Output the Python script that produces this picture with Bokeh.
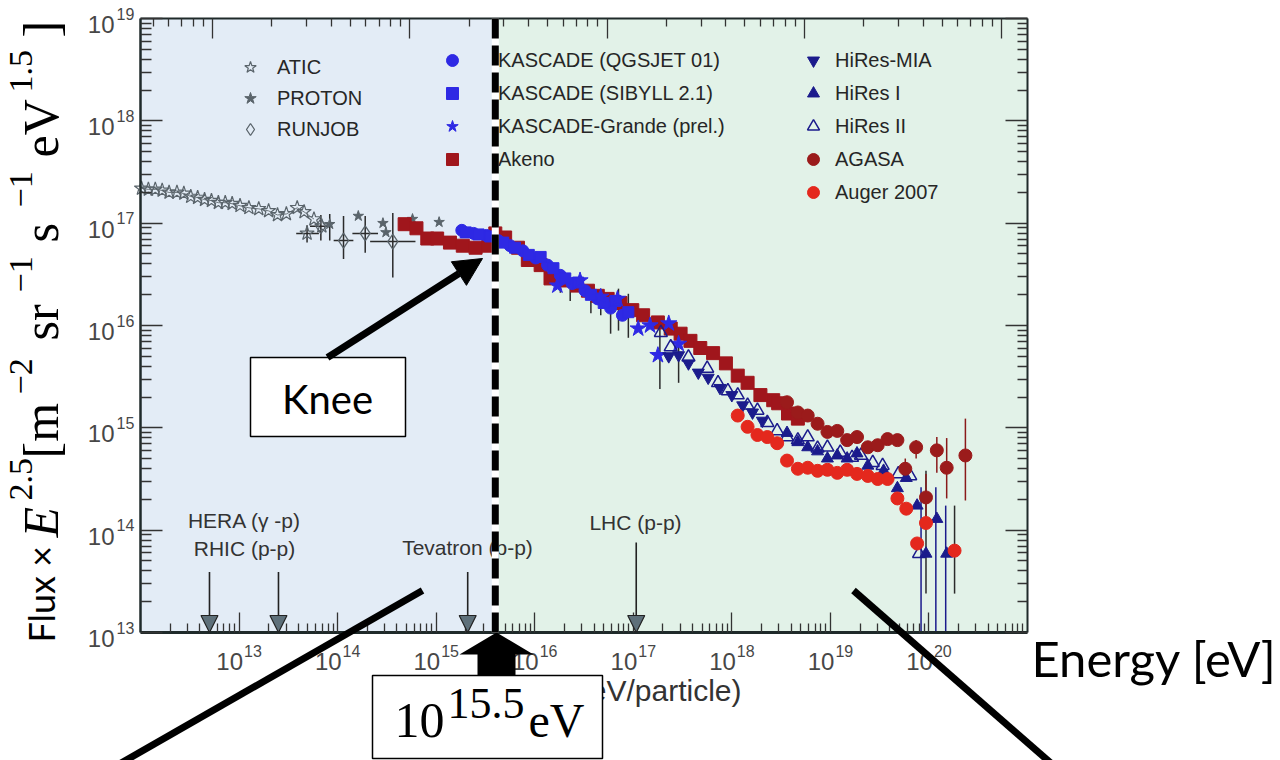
import math
import numpy as np
from bokeh.plotting import figure
from bokeh.models import (Range1d, LogScale, LogAxis, FixedTicker, CustomJSTickFormatter,
                          BoxAnnotation, Label, PolyAnnotation, Arrow, NormalHead,
                          Legend, LegendItem)
from bokeh.embed import file_html
from bokeh.resources import INLINE

# ---------------- data (log10 E [eV], log10 Flux*E^2.5) ----------------
atic_logE = [12.01, 12.08, 12.15, 12.22, 12.29, 12.37, 12.44, 12.51, 12.58, 12.65, 12.72, 12.79,
             12.86, 12.93, 13.01, 13.10, 13.20, 13.30, 13.39, 13.48, 13.59, 13.66, 13.76, 13.69, 13.84]
atic_logF = [17.34, 17.33, 17.33, 17.32, 17.30, 17.30, 17.29, 17.26, 17.25, 17.23, 17.22, 17.20,
             17.20, 17.19, 17.17, 17.15, 17.14, 17.12, 17.08, 17.09, 17.15, 17.11, 17.04, 16.90, 16.97]

proton_logE = [13.92, 14.21, 14.46, 14.49, 14.76, 15.03]
proton_logF = [16.99, 17.07, 17.00, 16.91, 17.04, 17.01]

runjob_logE = [13.83, 14.06, 14.28, 14.56]
runjob_logF = [16.97, 16.83, 16.90, 16.82]

akeno_logE = [14.68, 14.80, 14.91, 15.01, 15.14, 15.27, 15.40, 15.53, 15.60, 15.70, 15.83, 15.93,
              16.06, 16.16, 16.29, 16.43, 16.54, 16.64, 16.74, 16.87, 16.99, 17.10, 17.25, 17.38,
              17.48, 17.58, 17.68, 17.81, 17.94, 18.06, 18.16, 18.29, 18.42, 18.47, 18.57, 18.67]
akeno_logF = [16.99, 16.95, 16.85, 16.85, 16.81, 16.78, 16.76, 16.78, 16.90, 16.86, 16.76, 16.64,
              16.59, 16.46, 16.44, 16.39, 16.34, 16.29, 16.26, 16.22, 16.15, 16.10, 16.03, 15.97,
              15.92, 15.85, 15.78, 15.73, 15.63, 15.51, 15.44, 15.32, 15.27, 15.24, 15.14, 15.09]

kq_logE = [15.26, 15.38, 15.51, 15.63, 15.75, 15.88, 16.01, 16.13, 16.26, 16.38, 16.51, 16.64, 16.77, 16.89]
kq_logF = [16.93, 16.90, 16.88, 16.83, 16.78, 16.73, 16.66, 16.59, 16.49, 16.41, 16.34, 16.26, 16.17, 16.10]

ks_logE = [15.30, 15.43, 15.55, 15.68, 15.80, 15.94, 16.06, 16.19, 16.31, 16.44, 16.57, 16.70, 16.82, 16.95]
ks_logF = [16.91, 16.89, 16.87, 16.81, 16.76, 16.69, 16.67, 16.56, 16.46, 16.42, 16.30, 16.22, 16.24, 16.13]

kg_logE = [16.23, 16.46, 16.67, 16.84, 17.05, 17.17, 17.25, 17.36, 17.46]
kg_logF = [16.39, 16.44, 16.28, 16.26, 15.97, 16.00, 15.71, 16.02, 15.82]

mia_logE = [17.36, 17.46, 17.56, 17.66, 17.76, 17.88, 18.00, 18.11, 18.21, 18.31]
mia_logF = [15.70, 15.71, 15.63, 15.54, 15.49, 15.39, 15.32, 15.22, 15.15, 15.07]

h2_logE = [17.28, 17.38, 17.56, 17.75, 17.86, 17.96, 18.06, 18.16, 18.26, 18.36, 18.46, 18.56,
           18.67, 18.77, 18.87, 18.97, 19.10, 19.22, 19.31, 19.43, 19.53, 19.69, 19.81, 19.90]
h2_logF = [15.93, 15.79, 15.69, 15.58, 15.44, 15.36, 15.32, 15.22, 15.17, 15.05, 14.97, 14.91,
           14.88, 14.91, 14.80, 14.81, 14.76, 14.71, 14.73, 14.66, 14.63, 14.55, 14.53, 13.77]

h1_logE = [18.56, 18.67, 18.77, 18.87, 18.97, 19.07, 19.17, 19.27, 19.38, 19.54, 19.68, 19.77,
           19.88, 19.97, 20.08, 20.18]
h1_logF = [14.95, 14.86, 14.81, 14.77, 14.70, 14.73, 14.70, 14.75, 14.63, 14.58, 14.41, 14.51,
           14.24, 13.77, 14.11, 13.77]

agasa_logE = [18.56, 18.67, 18.77, 18.87, 18.97, 19.07, 19.17, 19.27, 19.38, 19.48, 19.58, 19.68,
              19.76, 19.87, 19.97, 20.08, 20.18, 20.37]
agasa_logF = [15.25, 15.15, 15.12, 15.04, 14.96, 14.97, 14.88, 14.91, 14.81, 14.83, 14.89, 14.88,
              14.60, 14.81, 14.32, 14.78, 14.61, 14.73]

auger_logE = [18.06, 18.16, 18.26, 18.36, 18.46, 18.56, 18.67, 18.77, 18.87, 18.97, 19.07, 19.17,
              19.27, 19.38, 19.48, 19.58, 19.68, 19.77, 19.88, 19.97, 20.26]
auger_logF = [15.12, 15.01, 14.93, 14.91, 14.85, 14.68, 14.60, 14.61, 14.58, 14.59, 14.56, 14.59,
              14.55, 14.53, 14.50, 14.50, 14.31, 14.21, 13.87, 14.07, 13.80]

# vertical error bars (black), log10 values
err_logE = [13.69, 13.83, 13.92, 14.06, 14.28, 14.56, 16.26, 16.36, 16.57, 16.67, 16.77, 16.85,
            16.95, 17.27, 17.46, 19.97, 20.26]
err_hi = [16.98, 17.08, 17.09, 17.07, 17.07, 17.10, 16.47, 16.36, 16.24, 16.24, 16.13, 16.36,
          16.31, 16.02, 15.98, 14.58, 14.24]
err_lo = [16.81, 16.83, 16.83, 16.65, 16.71, 16.47, 16.32, 16.24, 16.12, 16.10, 15.92, 15.95,
          15.88, 15.38, 15.44, 13.38, 13.38]
# horizontal error bars (ATIC / RUNJOB)
herr_logF = [16.90, 16.83, 16.90, 16.82, 16.97]
herr_lo = [13.58, 13.96, 14.15, 14.33, 13.72]
herr_hi = [13.81, 14.16, 14.41, 14.79, 13.93]
# HiRes error bars (blue) reaching the axis
hres_err_logE = [19.92, 20.07, 20.17]
hres_err_hi = [14.42, 14.42, 14.24]
hres_err_lo = [13.00, 13.00, 13.00]
# AGASA error bars
agasa_err_logE = [19.76, 19.87, 19.97, 20.08, 20.18, 20.37]
agasa_err_hi = [14.70, 14.88, 14.55, 14.91, 14.90, 15.09]
agasa_err_lo = [14.52, 14.70, 14.05, 14.56, 14.31, 14.29]

# accelerator energies (arrows)
acc_logE = [12.70, 13.40, 15.32, 17.03]
acc_top = [13.59, 13.59, 13.59, 13.88]

knee_logE = 15.6

# axis ticks / ranges
x_bounds = (1e12, 1e21)
y_bounds = (1e13, 1e19)
s_bounds = (10 ** 10.635, 10 ** 15.132)
x_major = [10.0 ** k for k in range(13, 21)]
x_minor = [m * 10.0 ** k for k in range(12, 21) for m in range(2, 10)]
y_major = [10.0 ** k for k in range(13, 20)]
y_minor = [m * 10.0 ** k for k in range(13, 19) for m in range(2, 10)]
s_major = [10.0 ** k for k in range(11, 16)]
s_minor = [v for v in (m * 10.0 ** k for k in range(10, 16) for m in range(2, 10))
           if s_bounds[0] <= v <= s_bounds[1]]


def P(a):
    return [10.0 ** v for v in a]


# ---------------- figure: frame = whole canvas; inner plot box 140..1027 x 18..632 ----------------
W, H = 1280, 760
p = figure(width=W, height=H, x_axis_type="log", y_axis_type="log",
           x_range=Range1d(10 ** 10.5795, 10 ** 23.5671), y_range=Range1d(10 ** 11.7492, 10 ** 19.1759),
           output_backend="svg", toolbar_location=None, min_border=0,
           min_border_left=0, min_border_right=0, min_border_top=0, min_border_bottom=0)
p.grid.visible = False
p.outline_line_color = None
p.border_fill_color = "white"
p.background_fill_color = "white"

p.extra_x_ranges = {"sqrts": Range1d(10 ** 9.9252, 10 ** 16.4144)}
p.extra_x_scales = {"sqrts": LogScale()}

blank = CustomJSTickFormatter(code="return '';")


def style(ax, mj, mn, lw):
    ax.major_tick_in = mj
    ax.major_tick_out = 0
    ax.minor_tick_in = mn
    ax.minor_tick_out = 0
    ax.axis_line_width = lw
    ax.axis_line_color = "#1f2a2a"
    ax.major_tick_line_color = "#333333"
    ax.minor_tick_line_color = "#333333"
    ax.major_tick_line_width = 1.3
    ax.minor_tick_line_width = 1.3
    ax.formatter = blank
    ax.major_label_text_font_size = "0px"
    ax.major_label_standoff = 0


xa = p.xaxis[0]
xa.ticker = FixedTicker(ticks=x_major, minor_ticks=x_minor)
xa.fixed_location = y_bounds[0]
xa.bounds = x_bounds
style(xa, 20, 9, 3)

ya = p.yaxis[0]
ya.ticker = FixedTicker(ticks=y_major, minor_ticks=y_minor)
ya.fixed_location = x_bounds[0]
ya.bounds = y_bounds
style(ya, 22, 11, 2.5)

top_ax = LogAxis(x_range_name="sqrts", ticker=FixedTicker(ticks=s_major, minor_ticks=s_minor),
                 fixed_location=y_bounds[1], bounds=s_bounds)
style(top_ax, 20, 8, 2)
p.add_layout(top_ax, "above")

right_ax = LogAxis(ticker=FixedTicker(ticks=y_major, minor_ticks=y_minor),
                   fixed_location=x_bounds[1], bounds=y_bounds)
style(right_ax, 22, 10, 2)
p.add_layout(right_ax, "right")

# background halves
p.add_layout(BoxAnnotation(left=x_bounds[0], right=10 ** knee_logE, bottom=y_bounds[0], top=y_bounds[1],
                           fill_color="#e3ecf6", fill_alpha=1, line_alpha=0, level="underlay"))
p.add_layout(BoxAnnotation(left=10 ** knee_logE, right=x_bounds[1], bottom=y_bounds[0], top=y_bounds[1],
                           fill_color="#e2f2e8", fill_alpha=1, line_alpha=0, level="underlay"))

# ---------------- data glyphs ----------------
BLUE = "#2e29e4"
NAVY = "#1b1b8c"
DRED = "#a0161c"
GRAY = "#5a646b"

p.line(P(atic_logE[:23]), P(atic_logF[:23]), line_color="#6d767c", line_width=1)
p.segment(x0=P(err_logE), y0=P(err_lo), x1=P(err_logE), y1=P(err_hi), line_color="#2b2b2b", line_width=1.5)
p.segment(x0=P(herr_lo), y0=P(herr_logF), x1=P(herr_hi), y1=P(herr_logF), line_color="#2b2b2b", line_width=1.5)
p.segment(x0=P(agasa_err_logE), y0=P(agasa_err_lo), x1=P(agasa_err_logE), y1=P(agasa_err_hi),
          line_color="#8a1a1a", line_width=1.5)
p.segment(x0=P(hres_err_logE), y0=P(hres_err_lo), x1=P(hres_err_logE), y1=P(hres_err_hi),
          line_color=NAVY, line_width=1.5)

r_atic = p.scatter(P(atic_logE), P(atic_logF), marker="star", size=15, fill_color=None,
                   line_color=GRAY, line_width=1.2)
r_proton = p.scatter(P(proton_logE), P(proton_logF), marker="star", size=11, fill_color=GRAY,
                     line_color=GRAY)
r_runjob = p.scatter(P(runjob_logE), P(runjob_logF), marker="diamond", size=15, fill_color=None,
                     line_color=GRAY, line_width=1.3)
r_akeno = p.scatter(P(akeno_logE), P(akeno_logF), marker="square", size=13, fill_color=DRED,
                    line_color=DRED)
r_kq = p.scatter(P(kq_logE), P(kq_logF), marker="circle", size=12, fill_color=BLUE, line_color=BLUE)
r_ks = p.scatter(P(ks_logE), P(ks_logF), marker="square", size=11, fill_color=BLUE, line_color=BLUE)
r_kg = p.scatter(P(kg_logE), P(kg_logF), marker="star", size=17, fill_color=BLUE, line_color=BLUE)
r_h2 = p.scatter(P(h2_logE), P(h2_logF), marker="triangle", size=13, fill_color=None,
                 line_color=NAVY, line_width=1.5)
r_mia = p.scatter(P(mia_logE), P(mia_logF), marker="inverted_triangle", size=12, fill_color=NAVY,
                  line_color=NAVY)
r_h1 = p.scatter(P(h1_logE), P(h1_logF), marker="triangle", size=12, fill_color=NAVY, line_color=NAVY)
r_agasa = p.scatter(P(agasa_logE), P(agasa_logF), marker="circle", size=13, fill_color="#9b1b1b",
                    line_color="#9b1b1b")
r_auger = p.scatter(P(auger_logE), P(auger_logF), marker="circle", size=13, fill_color="#e4281d",
                    line_color="#e4281d")

# accelerator arrows
for e, t in zip(acc_logE, acc_top):
    p.add_layout(Arrow(x_start=10 ** e, y_start=10 ** t, x_end=10 ** e, y_end=y_bounds[0],
                       line_color="#222222", line_width=1.6,
                       end=NormalHead(size=17, fill_color="#5e707a", line_color="#222222", line_width=1.2)))


# ---------------- legends ----------------
def make_legend(pairs, loc, spacing, standoff):
    lg = Legend(items=[LegendItem(label=l, renderers=[r]) for l, r in pairs], location=loc,
                orientation="vertical", padding=0, margin=0, spacing=spacing,
                glyph_width=30, glyph_height=30, label_height=30, label_standoff=standoff,
                label_text_font="Liberation Sans", label_text_font_size="20px",
                label_text_color="#262626", background_fill_alpha=0, border_line_alpha=0)
    p.add_layout(lg)


make_legend([("ATIC", r_atic), ("PROTON", r_proton), ("RUNJOB", r_runjob)], (235, 616), 1, 12)
make_legend([("KASCADE (QGSJET 01)", r_kq), ("KASCADE (SIBYLL 2.1)", r_ks),
             ("KASCADE-Grande (prel.)", r_kg), ("Akeno", r_akeno)], (437, 586), 3, 31)
make_legend([("HiRes-MIA", r_mia), ("HiRes I", r_h1), ("HiRes II", r_h2), ("AGASA", r_agasa),
             ("Auger 2007", r_auger)], (798, 553), 3, 7)

# knee dashed line (white under black dashes), above the legend text
p.segment(x0=[10 ** knee_logE], y0=[y_bounds[1]], x1=[10 ** knee_logE], y1=[y_bounds[0]],
          line_color="white", line_width=7, level="overlay")
p.segment(x0=[10 ** knee_logE], y0=[y_bounds[1]], x1=[10 ** knee_logE], y1=[y_bounds[0]],
          line_color="black", line_width=7, line_dash="20 7", level="overlay")


# ---------------- annotations in canvas px ----------------
def sx(cx):
    return cx


def sy(cy):
    return H - cy


def lab(text, cx, cy, font="Liberation Sans", size=20, style="normal", color="#333333",
        align="left", baseline="middle", angle=0.0):
    p.add_layout(Label(x=sx(cx), y=sy(cy), x_units="screen", y_units="screen", text=text,
                       text_font=font, text_font_size=f"{size}px", text_font_style=style,
                       text_color=color, text_align=align, text_baseline=baseline, angle=angle))


def poly(pts, fill="black", line="black", lw=0.0):
    p.add_layout(PolyAnnotation(xs=[sx(a) for a, b in pts], ys=[sy(b) for a, b in pts],
                                xs_units="screen", ys_units="screen", fill_color=fill, fill_alpha=1,
                                line_color=line, line_width=lw, line_alpha=1 if lw > 0 else 0))


def thick_line(a, b, w):
    a = np.array(a, float)
    b = np.array(b, float)
    d = b - a
    n = np.array([-d[1], d[0]]) / np.hypot(*d) * w / 2
    poly([tuple(a + n), tuple(b + n), tuple(b - n), tuple(a - n)])


# tick labels "10^n"
TICK_C = "#474747"
for t in x_major:
    e = int(round(math.log10(t)))
    p.add_layout(Label(x=t, y=sy(661), x_units="data", y_units="screen", text="10", x_offset=4,
                       text_align="right", text_baseline="middle", text_font="Liberation Sans",
                       text_font_size="24px", text_color=TICK_C))
    p.add_layout(Label(x=t, y=sy(650), x_units="data", y_units="screen", text=str(e), x_offset=5,
                       text_align="left", text_baseline="middle", text_font="Liberation Sans",
                       text_font_size="16px", text_color=TICK_C))
for t in y_major:
    e = int(round(math.log10(t)))
    p.add_layout(Label(x=sx(114), y=t, x_units="screen", y_units="data", text="10", y_offset=-6,
                       text_align="right", text_baseline="middle", text_font="Liberation Sans",
                       text_font_size="24px", text_color=TICK_C))
    p.add_layout(Label(x=sx(116), y=t, x_units="screen", y_units="data", text=str(e), y_offset=5,
                       text_align="left", text_baseline="middle", text_font="Liberation Sans",
                       text_font_size="16px", text_color=TICK_C))

# accelerator labels
lab("HERA (\u03b3 -p)", 244, 520, size=21, align="center")
lab("RHIC (p-p)", 244, 548, size=21, align="center")
lab("Tevatron (p-p)", 467, 547, size=21, align="center")
lab("LHC (p-p)", 635, 522, size=21, align="center")

# x axis label (partly hidden)
lab("E (eV/particle)", 741, 690, size=30, align="right")

# long diagonal lines
thick_line((422, 590), (118, 764), 7)
thick_line((853, 590), (1052, 764), 7)

# knee box + arrow
poly([(250, 357), (405, 357), (405, 436), (250, 436)], fill="white", line="black", lw=1.5)
lab("Knee", 327, 398, font="Lato", size=40, color="black", align="center")
p.add_layout(Arrow(x_start=sx(327), y_start=sy(357), x_end=sx(482), y_end=sy(258),
                   start_units="screen", end_units="screen", line_color="black", line_width=7,
                   end=NormalHead(size=28, fill_color="black", line_color="black")))

# big up arrow + 10^15.5 eV box
poly([(496, 632), (533, 654), (515, 654), (515, 676), (477, 676), (477, 654), (459, 654)])
poly([(372, 675), (602, 675), (602, 758), (372, 758)], fill="white", line="black", lw=1.5)
lab("10", 394, 720, font="Liberation Serif", size=50, color="black")
lab("15.5", 447, 703, font="Liberation Serif", size=44, color="black")
lab("eV", 528, 720, font="Liberation Serif", size=48, color="black")

# Energy [eV]
lab("Energy [eV]", 1031, 657, font="Lato", size=49, color="black")

# rotated y title pieces (text centre line x, start y)
R = math.pi / 2
ytitle = [("Flux \u00d7", 40, 642, "Lato", "normal", 36),
          ("E", 40, 537, "Liberation Serif", "italic", 50),
          ("2.5", 20, 500, "Liberation Serif", "normal", 34),
          ("[m", 40, 458, "Liberation Serif", "normal", 50),
          ("\u22122", 20, 394, "Liberation Serif", "normal", 34),
          ("sr", 40, 340, "Liberation Serif", "normal", 50),
          ("\u22121", 20, 292, "Liberation Serif", "normal", 34),
          ("s", 40, 242, "Liberation Serif", "normal", 50),
          ("\u22121", 20, 207, "Liberation Serif", "normal", 34),
          ("eV", 40, 157, "Liberation Serif", "normal", 50),
          ("1.5", 20, 92, "Liberation Serif", "normal", 34),
          ("]", 40, 37, "Liberation Serif", "normal", 50)]
for t, cx, cy, f, st, sz in ytitle:
    lab(t, cx, cy, font=f, size=sz, style=st, color="black", angle=R)

open("out.html", "w").write(file_html(p, INLINE))
